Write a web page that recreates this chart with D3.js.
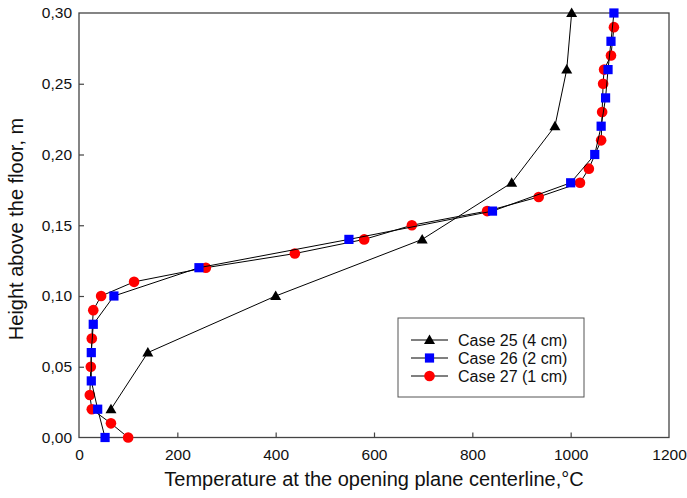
<!DOCTYPE html>
<html lang="en">
<head>
<meta charset="UTF-8"/>
<title>Temperature profile</title>
<script src="https://d3js.org/d3.v7.min.js"></script>
<style>
  body { margin: 0; background: white; }
  text { font-family: "Liberation Sans", Arial, sans-serif; fill: #111; }
</style>
</head>
<body>
<script>
// values
var case25T = [65, 140, 400, 698, 880, 968, 992, 1002];
var case25H = [0.02, 0.06, 0.10, 0.14, 0.18, 0.22, 0.26, 0.30];

var case26T = [53, 38, 25, 25, 29, 71, 244, 549, 841, 1000, 1049, 1062, 1071, 1076, 1082, 1088];
var case26H = [0.00, 0.02, 0.04, 0.06, 0.08, 0.10, 0.12, 0.14, 0.16, 0.18, 0.20, 0.22, 0.24, 0.26, 0.28, 0.30];

var case27T = [100, 65, 26, 22, 24, 26, 29, 45, 112, 258, 439, 580, 677, 830, 935, 1019, 1037, 1062, 1064, 1066, 1068, 1082, 1088];
var case27H = [0.00, 0.01, 0.02, 0.03, 0.05, 0.07, 0.09, 0.10, 0.11, 0.12, 0.13, 0.14, 0.15, 0.16, 0.17, 0.18, 0.19, 0.21, 0.23, 0.25, 0.26, 0.27, 0.29];

var xTicks = [0, 200, 400, 600, 800, 1000, 1200];
var yTicks = [0, 0.05, 0.10, 0.15, 0.20, 0.25, 0.30];
var legendNames = ["Case 25 (4 cm)", "Case 26 (2 cm)", "Case 27 (1 cm)"];

var w = 687, h = 498;
var plotL = 79, plotR = 669, plotT = 13, plotB = 437.5;

var svg = d3.select("body").append("svg")
    .attr("width", w)
    .attr("height", h);

var x = d3.scaleLinear().domain([0, 1200]).range([plotL, plotR]);
var y = d3.scaleLinear().domain([0, 0.30]).range([plotB, plotT]);

function pts(T, H) {
    return T.map(function(t, i) { return [t, H[i]]; });
}

var series = [
    { name: legendNames[2], data: pts(case27T, case27H), shape: "circle", color: "#ff0000" },
    { name: legendNames[1], data: pts(case26T, case26H), shape: "square", color: "#0000ff" },
    { name: legendNames[0], data: pts(case25T, case25H), shape: "triangle", color: "#000000" }
];

var line = d3.line()
    .x(function(d) { return x(d[0]); })
    .y(function(d) { return y(d[1]); });

// frame
svg.append("rect")
    .attr("x", plotL).attr("y", plotT)
    .attr("width", plotR - plotL).attr("height", plotB - plotT)
    .attr("fill", "none")
    .attr("stroke", "#444")
    .attr("stroke-width", 1.3);

var fmt = function(d) { return d3.format(".2f")(d).replace(".", ","); };

var xAxis = svg.append("g")
    .attr("transform", "translate(0," + plotB + ")")
    .call(d3.axisBottom(x).tickValues(xTicks).tickFormat(d3.format("d"))
        .tickSizeInner(-5).tickSizeOuter(0).tickPadding(11));
var yAxis = svg.append("g")
    .attr("transform", "translate(" + plotL + ",0)")
    .call(d3.axisLeft(y).tickValues(yTicks).tickFormat(fmt)
        .tickSizeInner(-5).tickSizeOuter(0).tickPadding(7));

[xAxis, yAxis].forEach(function(a) {
    a.select(".domain").remove();
    a.selectAll("line").attr("stroke", "#444").attr("stroke-width", 1.2);
    a.selectAll("text").style("font-size", "15.5px")
        .style("font-family", "'Liberation Sans', Arial, sans-serif").attr("fill", "#111");
});
xAxis.selectAll(".tick").filter(function(d) { return d === 0 || d === 1200; })
    .select("line").remove();
yAxis.selectAll(".tick").filter(function(d) { return d === 0 || d === 0.30; })
    .select("line").remove();

function drawMarker(g, shape, color, cx, cy) {
    if (shape === "circle") {
        g.append("circle").attr("cx", cx).attr("cy", cy).attr("r", 5.3).attr("fill", color);
    } else if (shape === "square") {
        g.append("rect").attr("x", cx - 4.6).attr("y", cy - 4.6)
            .attr("width", 9.2).attr("height", 9.2).attr("fill", color);
    } else {
        g.append("path")
            .attr("d", "M" + cx + "," + (cy - 5.5) + "L" + (cx + 5.5) + "," + (cy + 4) + "L" + (cx - 5.5) + "," + (cy + 4) + "Z")
            .attr("fill", color);
    }
}

series.forEach(function(s) {
    var g = svg.append("g");
    g.append("path")
        .attr("d", line(s.data))
        .attr("fill", "none")
        .attr("stroke", "#000")
        .attr("stroke-width", 1);
    s.data.forEach(function(d) {
        drawMarker(g, s.shape, s.color, x(d[0]), y(d[1]));
    });
});

// legend
var lg = svg.append("g");
lg.append("rect")
    .attr("x", 398).attr("y", 318)
    .attr("width", 186).attr("height", 79)
    .attr("fill", "white")
    .attr("stroke", "#555")
    .attr("stroke-width", 1);

var legendItems = [series[2], series[1], series[0]];
legendItems.forEach(function(s, i) {
    var ly = 340 + i * 18;
    lg.append("line")
        .attr("x1", 411).attr("x2", 448)
        .attr("y1", ly).attr("y2", ly)
        .attr("stroke", "#000").attr("stroke-width", 1);
    drawMarker(lg, s.shape, s.color, 429.5, ly);
    lg.append("text")
        .attr("x", 458).attr("y", ly + 6)
        .style("font-size", "16px")
        .text(s.name);
});

// axis titles
svg.append("text")
    .attr("x", 374)
    .attr("y", 486)
    .attr("text-anchor", "middle")
    .style("font-size", "20px")
    .text("Temperature at the opening plane centerline,\u00B0C");

svg.append("text")
    .attr("transform", "rotate(-90)")
    .attr("x", -229)
    .attr("y", 23)
    .attr("text-anchor", "middle")
    .style("font-size", "20px")
    .text("Height above the floor, m");
</script>
</body>
</html>
